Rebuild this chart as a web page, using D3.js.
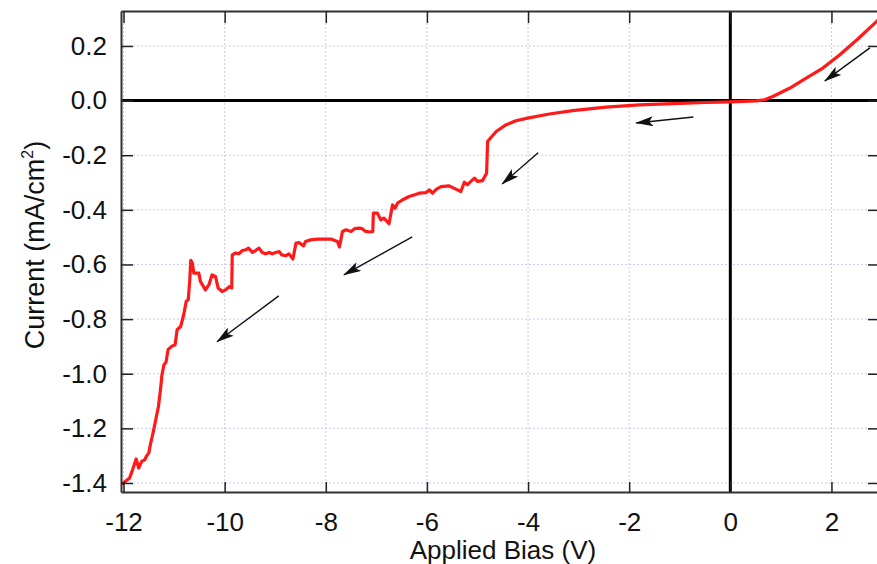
<!DOCTYPE html>
<html>
<head>
<meta charset="utf-8">
<script src="https://cdn.jsdelivr.net/npm/d3@7"></script>
<style>
  body { margin: 0; background: #fff; }
  text { font-family: "Liberation Sans", Arial, sans-serif; fill: #111; }
</style>
</head>
<body>
<script>
// bias sweep (V) and measured current density (mA/cm^2)
var bias = [-12.03, -11.99, -11.88, -11.82, -11.75, -11.70, -11.64, -11.58, -11.55, -11.50,
  -11.47, -11.41, -11.37, -11.31, -11.27, -11.24, -11.20, -11.16, -11.12, -11.05,
  -10.98, -10.94, -10.87, -10.81, -10.76, -10.72, -10.69, -10.67, -10.64, -10.61,
  -10.51, -10.48, -10.38, -10.31, -10.25, -10.18, -10.13, -10.05, -9.98, -9.91,
  -9.86, -9.85, -9.78, -9.72, -9.65, -9.58, -9.53, -9.45, -9.39, -9.32,
  -9.26, -9.19, -9.12, -9.06, -8.99, -8.92, -8.87, -8.79, -8.73, -8.66,
  -8.65, -8.59, -8.53, -8.44, -8.40, -8.30, -8.17, -8.04, -7.90, -7.77,
  -7.73, -7.67, -7.60, -7.50, -7.43, -7.34, -7.28, -7.21, -7.12, -7.07,
  -7.06, -6.98, -6.91, -6.85, -6.75, -6.68, -6.63, -6.58, -6.48, -6.35,
  -6.15, -6.02, -5.95, -5.89, -5.81, -5.72, -5.56, -5.43, -5.33, -5.26,
  -5.20, -5.13, -5.06, -5.00, -4.90, -4.82, -4.80, -4.73, -4.63, -4.44,
  -4.24, -4.01, -3.58, -3.12, -2.46, -1.80, -1.14, -0.48, -0.01, 0.51,
  0.68, 0.84, 1.17, 1.50, 1.83, 2.16, 2.50, 2.89, 3.00];
var current = [-1.406, -1.398, -1.382, -1.351, -1.312, -1.345, -1.321, -1.315, -1.303, -1.290,
  -1.260, -1.211, -1.175, -1.120, -1.059, -1.004, -0.967, -0.958, -0.912, -0.900,
  -0.894, -0.839, -0.827, -0.784, -0.735, -0.729, -0.656, -0.585, -0.595, -0.632,
  -0.632, -0.662, -0.693, -0.674, -0.638, -0.644, -0.686, -0.699, -0.693, -0.681,
  -0.686, -0.565, -0.558, -0.561, -0.549, -0.546, -0.540, -0.556, -0.549, -0.540,
  -0.556, -0.561, -0.556, -0.561, -0.556, -0.553, -0.565, -0.568, -0.561, -0.577,
  -0.580, -0.522, -0.520, -0.532, -0.516, -0.510, -0.507, -0.507, -0.507, -0.516,
  -0.536, -0.479, -0.473, -0.479, -0.469, -0.467, -0.469, -0.479, -0.481, -0.479,
  -0.412, -0.412, -0.437, -0.430, -0.451, -0.382, -0.394, -0.375, -0.363, -0.351,
  -0.339, -0.337, -0.327, -0.339, -0.324, -0.315, -0.312, -0.324, -0.333, -0.299,
  -0.308, -0.296, -0.284, -0.296, -0.293, -0.266, -0.150, -0.134, -0.113, -0.089,
  -0.074, -0.064, -0.049, -0.037, -0.024, -0.016, -0.011, -0.007, -0.005, -0.001,
  0.003, 0.015, 0.045, 0.082, 0.119, 0.167, 0.222, 0.289, 0.310];

var xTicks = [-12, -10, -8, -6, -4, -2, 0, 2];
var yTicks = [0.2, 0.0, -0.2, -0.4, -0.6, -0.8, -1.0, -1.2, -1.4];

// sweep-direction arrows: [fromV, fromI, toV, toI]
var arrows = [
  [2.76, 0.193, 1.87, 0.072],
  [-0.73, -0.060, -1.86, -0.082],
  [-3.80, -0.191, -4.51, -0.305],
  [-6.29, -0.499, -7.64, -0.638],
  [-8.93, -0.715, -10.15, -0.883]
];

var W = 877, H = 564;
var pLeft = 121, pRight = 880, pTop = 11, pBottom = 492;

var x = d3.scaleLinear().domain([-12.05, 2.96]).range([pLeft, pRight]);
var y = d3.scaleLinear().domain([-1.433, 0.328]).range([pBottom, pTop]);

// plain hyphen for negatives, like the original
var fx = function (d) { return String(d); };
var fy = function (d) { return d3.format('.1f')(d).replace('\u2212', '-'); };

var svg = d3.select('body').append('svg')
  .attr('width', W).attr('height', H);

var defs = svg.append('defs');
defs.append('clipPath').attr('id', 'plot')
  .append('rect')
  .attr('x', pLeft).attr('y', pTop)
  .attr('width', pRight - pLeft).attr('height', pBottom - pTop);

defs.append('marker')
  .attr('id', 'head')
  .attr('viewBox', '0 0 18 10')
  .attr('refX', 17).attr('refY', 5)
  .attr('markerWidth', 18).attr('markerHeight', 10)
  .attr('markerUnits', 'userSpaceOnUse')
  .attr('orient', 'auto')
  .append('path')
  .attr('d', 'M0,0L18,5L0,10L4,5Z')
  .attr('fill', '#111');

// dotted grid
var grid = svg.append('g');
grid.selectAll('line.gx').data(xTicks).enter().append('line')
  .attr('x1', function (d) { return x(d); })
  .attr('x2', function (d) { return x(d); })
  .attr('y1', pTop).attr('y2', pBottom)
  .attr('stroke', '#c8c8f6').attr('stroke-width', 1)
  .attr('stroke-dasharray', '2,2');
grid.selectAll('line.gy').data(yTicks).enter().append('line')
  .attr('y1', function (d) { return y(d); })
  .attr('y2', function (d) { return y(d); })
  .attr('x1', pLeft).attr('x2', pRight)
  .attr('stroke', '#c8c8f6').attr('stroke-width', 1)
  .attr('stroke-dasharray', '2,2');

// zero lines
svg.append('line')
  .attr('x1', pLeft).attr('x2', pRight)
  .attr('y1', y(0)).attr('y2', y(0))
  .attr('stroke', '#000').attr('stroke-width', 3);
svg.append('line')
  .attr('x1', x(0)).attr('x2', x(0))
  .attr('y1', pTop).attr('y2', pBottom)
  .attr('stroke', '#000').attr('stroke-width', 3);

// data curve
var points = bias.map(function (v, i) { return [v, current[i]]; });
var line = d3.line()
  .x(function (d) { return x(d[0]); })
  .y(function (d) { return y(d[1]); });
svg.append('path')
  .attr('clip-path', 'url(#plot)')
  .attr('d', line(points))
  .attr('fill', 'none')
  .attr('stroke', '#ff1a1a')
  .attr('stroke-width', 3.2)
  .attr('stroke-linejoin', 'round');

// arrows
svg.selectAll('line.arrow').data(arrows).enter().append('line')
  .attr('x1', function (d) { return x(d[0]); })
  .attr('y1', function (d) { return y(d[1]); })
  .attr('x2', function (d) { return x(d[2]); })
  .attr('y2', function (d) { return y(d[3]); })
  .attr('stroke', '#111').attr('stroke-width', 1.4)
  .attr('marker-end', 'url(#head)');

// axes (ticks drawn inward)
function styleAxis(g) {
  g.select('.domain').attr('stroke', '#333').attr('stroke-width', 2);
  g.selectAll('.tick line').attr('stroke', '#222').attr('stroke-width', 1.5);
  g.selectAll('.tick text').style('font-size', '26px')
    .style('font-family', '"Liberation Sans", Arial, sans-serif').attr('fill', '#111');
}

svg.append('g')
  .attr('transform', 'translate(0,' + pBottom + ')')
  .call(d3.axisBottom(x).tickValues(xTicks).tickSizeInner(-10).tickSizeOuter(0)
    .tickPadding(21).tickFormat(fx))
  .call(styleAxis);
svg.append('g')
  .attr('transform', 'translate(0,' + pTop + ')')
  .call(d3.axisTop(x).tickValues(xTicks).tickSizeInner(-12).tickSizeOuter(0)
    .tickFormat(''))
  .call(styleAxis);
svg.append('g')
  .attr('transform', 'translate(' + pLeft + ',0)')
  .call(d3.axisLeft(y).tickValues(yTicks).tickSizeInner(-12).tickSizeOuter(0)
    .tickPadding(14).tickFormat(fy))
  .call(styleAxis);
svg.append('g')
  .attr('transform', 'translate(' + pRight + ',0)')
  .call(d3.axisRight(y).tickValues(yTicks).tickSizeInner(-12).tickSizeOuter(0)
    .tickFormat(''))
  .call(styleAxis);

// axis titles
svg.append('text')
  .attr('x', 503).attr('y', 559)
  .attr('text-anchor', 'middle')
  .style('font-size', '26px')
  .text('Applied Bias (V)');

var yt = svg.append('text')
  .attr('transform', 'translate(44,245) rotate(-90)')
  .attr('text-anchor', 'middle')
  .style('font-size', '27px');
yt.append('tspan').text('Current (mA/cm');
yt.append('tspan').attr('dy', -11).style('font-size', '16px').text('2');
yt.append('tspan').attr('dy', 11).text(')');
</script>
</body>
</html>
